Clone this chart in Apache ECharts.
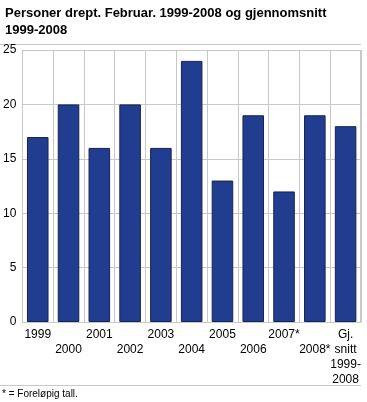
<!DOCTYPE html>
<html><head><meta charset="utf-8">
<script src="https://cdn.jsdelivr.net/npm/echarts@6/dist/echarts.min.js"></script>
<style>html,body{margin:0;padding:0;background:#fff}#c{width:367px;height:402px}</style>
</head><body><div id="c"></div>
<script>
var categories = ['1999','2000','2001','2002','2003','2004','2005','2006','2007*','2008*','Gj.\nsnitt\n1999-\n2008'];
var values = [17,20,16,20,16,24,13,19,12,19,18];
var yTicks = {min:0, max:25, interval:5};
var titleText = 'Personer drept. Februar. 1999-2008 og gjennomsnitt\n1999-2008';
var footnote = '* = Foreløpig tall.';

var chart = echarts.init(document.getElementById('c'));
var font = 'Arial, "Liberation Sans", sans-serif';
chart.setOption({
  animation:false,
  title:{text:titleText,left:0,top:0,textStyle:{fontFamily:font,fontSize:13,fontWeight:'bold',color:'#000',lineHeight:17}},
  grid:{left:20,right:6,top:50,bottom:80,containLabel:false},
  xAxis:{type:'category',data:categories,
    axisLine:{show:true,lineStyle:{color:'#c8c8c8'}},axisTick:{show:false},
    splitLine:{show:true,lineStyle:{color:'#c8c8c8',width:1}},
    axisLabel:{interval:0,margin:5,color:'#000',fontFamily:font,fontSize:12,lineHeight:15,
      formatter:function(v,i){return (i%2===1?'\n':'')+v;}}},
  yAxis:{type:'value',min:yTicks.min,max:yTicks.max,interval:yTicks.interval,
    axisLine:{show:false},axisTick:{show:false},
    splitLine:{lineStyle:{color:'#c8c8c8',width:1}},
    axisLabel:{margin:6,color:'#000',fontFamily:font,fontSize:12}},
  series:[{type:'bar',data:values,barWidth:'70%',
    itemStyle:{color:'#213d8f',borderColor:'#18234f',borderWidth:1}}],
  graphic:[
    {type:'line',shape:{x1:0,y1:44.5,x2:361,y2:44.5},style:{stroke:'#c8c8c8',lineWidth:1}},
    {type:'line',shape:{x1:0,y1:385.5,x2:361,y2:385.5},style:{stroke:'#c8c8c8',lineWidth:1}},
    {type:'line',shape:{x1:360.5,y1:50,x2:360.5,y2:322},style:{stroke:'#c8c8c8',lineWidth:1}},
    {type:'text',left:2,top:389,style:{text:footnote,fontFamily:font,fontSize:10,fill:'#000'}}
  ]
});
</script></body></html>
